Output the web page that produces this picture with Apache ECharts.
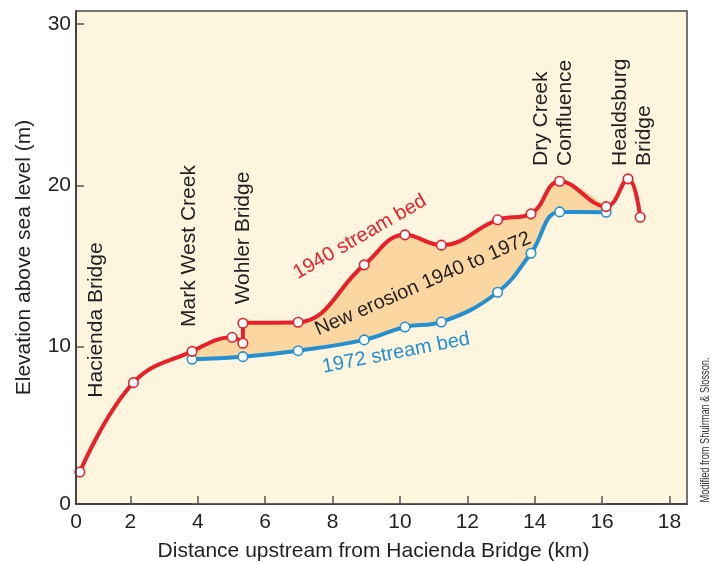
<!DOCTYPE html>
<html><head><meta charset="utf-8">
<script src="https://cdn.jsdelivr.net/npm/echarts@6/dist/echarts.min.js"></script>
<style>html,body{margin:0;padding:0;background:#fff}#c{width:720px;height:562px}</style>
</head><body><div id="c"></div>
<script>
// ---- data ----
const xKm1940 = [0.50, 2.09, 3.83, 5.02, 5.34, 5.34, 6.98, 8.94, 10.15, 11.23, 12.90, 13.89, 14.74, 16.12, 16.77, 17.13];
const elev1940 = [2.23, 7.77, 9.71, 10.58, 10.21, 11.45, 11.51, 15.07, 16.93, 16.29, 17.86, 18.23, 20.25, 18.68, 20.40, 18.02];
const xKm1972 = [3.83, 5.34, 6.98, 8.94, 10.15, 11.23, 12.90, 13.89, 14.74, 16.12];
const elev1972 = [9.22, 9.38, 9.75, 10.42, 11.22, 11.53, 13.37, 15.79, 18.35, 18.33];
const xTicks = [0, 2, 4, 6, 8, 10, 12, 14, 16, 18];
const yTicks = [0, 10, 20, 30];

// ---- layout / style ----
const X_MIN = 0.386, X_MAX = 18.52, Y_MIN = 0.25, Y_MAX = 30.8;
const FONT = '"Liberation Sans", Arial, Helvetica, sans-serif';
const RED = '#E8202A', BLUE = '#2490D2', FILL = '#FAD7A0', BG = '#FDF5DE', INK = '#231F20';
const SMOOTH = 0.42;

const pts = (xs, ys) => xs.map((x, i) => [x, ys[i]]);
const red = pts(xKm1940, elev1940);
const blue = pts(xKm1972, elev1972);
const fillStart = xKm1940.indexOf(xKm1972[0]);
const fillEnd = xKm1940.lastIndexOf(xKm1972[xKm1972.length - 1]);

const chart = echarts.init(document.getElementById('c'), null, {renderer: 'canvas'});

function txt(x, y, text, rotDeg, o) {
  o = o || {};
  return {
    type: 'text', x: x, y: y, rotation: rotDeg * Math.PI / 180, z: 100,
    scaleX: o.scaleX || 1,
    style: {
      text: text, fill: o.color || INK,
      font: (o.size || 21) + 'px ' + (o.family || FONT),
      align: o.align || 'center', verticalAlign: 'middle'
    }
  };
}

const symStyle = c => ({color: '#fff', borderColor: c, borderWidth: 1.6});

chart.setOption({
  animation: false,
  grid: {left: 76, right: 33, top: 11, bottom: 58, show: true, backgroundColor: BG,
         borderColor: '#4a4a4a', borderWidth: 1.5, containLabel: false, outerBoundsMode: 'none'},
  xAxis: {
    type: 'value', min: X_MIN, max: X_MAX, z: 10,
    axisLine: {show: true, onZero: false, lineStyle: {color: '#333', width: 1.5}},
    axisTick: {show: true, inside: true, length: 8, customValues: xTicks.filter(v => v > X_MIN),
               lineStyle: {color: '#555', width: 1.5}},
    axisLabel: {customValues: xTicks.map(v => Math.max(v, X_MIN)),
                formatter: v => v <= X_MIN + 1e-6 ? '0' : String(Math.round(v)),
                fontSize: 21, color: INK, fontFamily: FONT, margin: 8},
    splitLine: {show: false},
    name: 'Distance upstream from Hacienda Bridge (km)', nameLocation: 'middle', nameGap: 37,
    nameTextStyle: {fontSize: 21, color: INK, fontFamily: FONT, padding: [0, 16, 0, 0]}
  },
  yAxis: {
    type: 'value', min: Y_MIN, max: Y_MAX, z: 10,
    axisLine: {show: true, onZero: false, lineStyle: {color: '#333', width: 1.5}},
    axisTick: {show: true, inside: true, length: 8, customValues: yTicks.filter(v => v > Y_MIN),
               lineStyle: {color: '#555', width: 1.5}},
    axisLabel: {customValues: yTicks.map(v => Math.max(v, Y_MIN)),
                formatter: v => v <= Y_MIN + 1e-6 ? '0' : String(Math.round(v)),
                fontSize: 21, color: INK, fontFamily: FONT, margin: 5},
    splitLine: {show: false},
    name: 'Elevation above sea level (m)', nameLocation: 'middle', nameGap: 41,
    nameTextStyle: {fontSize: 21, color: INK, fontFamily: FONT}
  },
  series: [
    {name: 'New erosion 1940 to 1972', type: 'line', data: red.slice(fillStart, fillEnd + 1),
     smooth: SMOOTH, symbol: 'none', lineStyle: {width: 0}, areaStyle: {color: FILL, opacity: 1},
     z: 1, silent: true},
    {name: '1972 stream bed', type: 'line', data: blue, smooth: SMOOTH,
     lineStyle: {color: BLUE, width: 4}, areaStyle: {color: BG, opacity: 1},
     symbol: 'circle', symbolSize: 9.5, showAllSymbol: true, itemStyle: symStyle(BLUE), z: 3},
    {name: '1940 stream bed', type: 'line', data: red, smooth: SMOOTH,
     lineStyle: {color: RED, width: 4},
     symbol: 'circle', symbolSize: 9.5, showAllSymbol: true, itemStyle: symStyle(RED), z: 4}
  ],
  graphic: [
    txt(96, 320, 'Hacienda Bridge', 90),
    txt(189, 246, 'Mark West Creek', 90),
    txt(243, 238, 'Wohler Bridge', 90),
    txt(541, 166, 'Dry Creek', 90, {align: 'left'}),
    txt(565, 166, 'Confluence', 90, {align: 'left'}),
    txt(620, 166, 'Healdsburg', 90, {align: 'left'}),
    txt(644, 166, 'Bridge', 90, {align: 'left'}),
    txt(360, 237, '1940 stream bed', 30, {color: RED, size: 20}),
    txt(423, 284, 'New erosion 1940 to 1972', 23.5, {size: 20}),
    txt(396, 353, '1972 stream bed', 11, {color: BLUE, size: 20}),
    txt(706, 430, 'Modified from Shuirman & Slosson.', 90,
        {size: 12.5, color: '#333', scaleX: 0.74})
  ]
});
</script>
</body></html>
